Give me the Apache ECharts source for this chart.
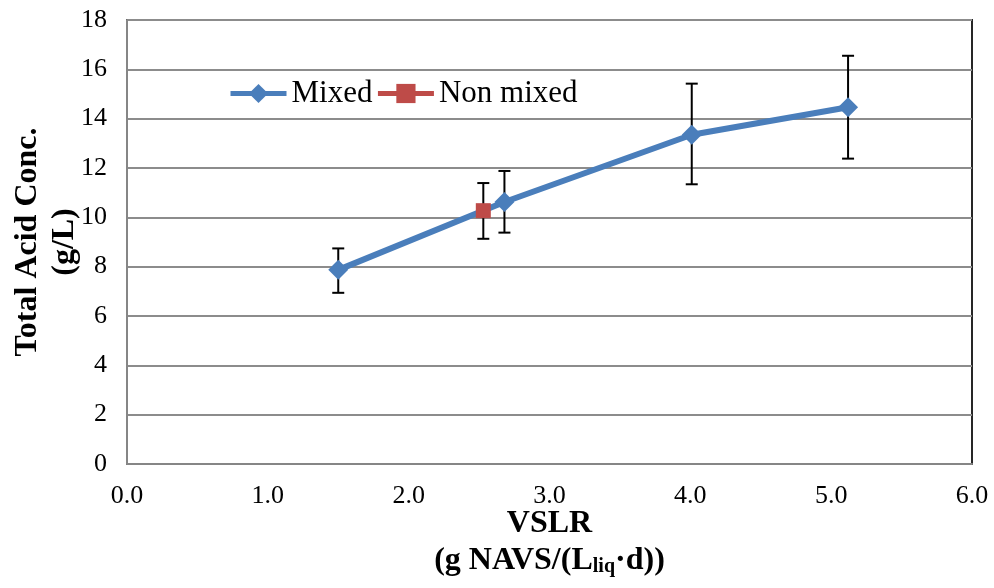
<!DOCTYPE html>
<html>
<head>
<meta charset="utf-8">
<script src="https://cdn.jsdelivr.net/npm/echarts@6/dist/echarts.min.js"></script>
<style>html,body{margin:0;padding:0;background:#fff}#c{width:994px;height:588px}</style>
</head>
<body>
<div id="c"></div>
<script>
const mixedX = [1.50, 2.68, 4.01, 5.12];
const mixedY = [7.87, 10.62, 13.35, 14.46];
const mixedLow = [6.94, 9.38, 11.34, 12.38];
const mixedHigh = [8.74, 11.88, 15.42, 16.55];
const nonMixedX = [2.53];
const nonMixedY = [10.27];
const nonMixedLow = [9.13];
const nonMixedHigh = [11.39];
const seriesNames = ['Mixed', 'Non mixed'];
const yTicks = [0, 2, 4, 6, 8, 10, 12, 14, 16, 18];
const xTicks = [0, 1, 2, 3, 4, 5, 6];

const FONT = '"Liberation Serif","Times New Roman",serif';
const errData = mixedX.map((x, i) => [x, mixedLow[i], mixedHigh[i]])
  .concat(nonMixedX.map((x, i) => [x, nonMixedLow[i], nonMixedHigh[i]]));

const chart = echarts.init(document.getElementById('c'));
chart.setOption({
  animation: false,
  backgroundColor: '#fff',
  grid: { left: 127, right: 22, top: 20, bottom: 124, show: true, borderColor: '#262626', borderWidth: 2, containLabel: false, outerBoundsMode: 'none' },
  legend: {
    data: seriesNames,
    left: 228, top: 78, padding: 0,
    itemWidth: 56, itemHeight: 24, itemGap: 3,
    lineStyle: { width: 5 },
    textStyle: { fontFamily: FONT, fontSize: 31, color: '#000' }
  },
  xAxis: {
    type: 'value', min: xTicks[0], max: xTicks[xTicks.length - 1], interval: 1,
    axisLine: { show: true, onZero: false, lineStyle: { color: '#868686', width: 2 } },
    axisTick: { show: false },
    splitLine: { show: false },
    axisLabel: { margin: 19, fontFamily: FONT, fontSize: 26, color: '#000', formatter: v => v.toFixed(1) },
    name: '{b|VSLR}\n{b|(g NAVS/(L}{s|liq}{b|·d))}',
    nameLocation: 'middle', nameGap: 41, nameMoveOverlap: false,
    nameTextStyle: {
      lineHeight: 37,
      rich: {
        b: { fontFamily: FONT, fontWeight: 'bold', fontSize: 32, color: '#000', lineHeight: 37 },
        s: { fontFamily: FONT, fontWeight: 'bold', fontSize: 20, color: '#000', padding: [12, 0, 0, 0], lineHeight: 37 }
      }
    }
  },
  yAxis: {
    type: 'value', min: yTicks[0], max: yTicks[yTicks.length - 1], interval: 2,
    axisLine: { show: true, lineStyle: { color: '#868686', width: 2 } },
    axisTick: { show: false },
    splitLine: { show: true, lineStyle: { color: '#8c8c8c', width: 2 } },
    axisLabel: { margin: 20, fontFamily: FONT, fontSize: 26, color: '#000' },
    name: 'Total Acid Conc.\n(g/L)',
    nameLocation: 'middle', nameGap: 44, nameMoveOverlap: false,
    nameTextStyle: { fontFamily: FONT, fontWeight: 'bold', fontSize: 32, color: '#000', lineHeight: 37 }
  },
  series: [
    {
      type: 'custom', name: 'err', z: 1, silent: true,
      data: errData,
      renderItem: (params, api) => {
        const x = api.value(0);
        const lo = api.coord([x, api.value(1)]);
        const hi = api.coord([x, api.value(2)]);
        const hw = 6;
        const st = { stroke: '#000', lineWidth: 2 };
        return { type: 'group', children: [
          { type: 'line', shape: { x1: lo[0], y1: lo[1], x2: hi[0], y2: hi[1] }, style: st },
          { type: 'line', shape: { x1: lo[0] - hw, y1: lo[1], x2: lo[0] + hw, y2: lo[1] }, style: st },
          { type: 'line', shape: { x1: hi[0] - hw, y1: hi[1], x2: hi[0] + hw, y2: hi[1] }, style: st }
        ]};
      }
    },
    {
      type: 'line', name: seriesNames[0], z: 3,
      data: mixedX.map((x, i) => [x, mixedY[i]]),
      symbol: 'diamond', symbolSize: 20,
      lineStyle: { color: '#4a7ebb', width: 6 },
      itemStyle: { color: '#4a7ebb' }
    },
    {
      type: 'line', name: seriesNames[1], z: 4,
      data: nonMixedX.map((x, i) => [x, nonMixedY[i]]),
      symbol: 'rect', symbolSize: 15,
      lineStyle: { color: '#be4b48', width: 5 },
      itemStyle: { color: '#be4b48' }
    }
  ]
});
</script>
</body>
</html>
